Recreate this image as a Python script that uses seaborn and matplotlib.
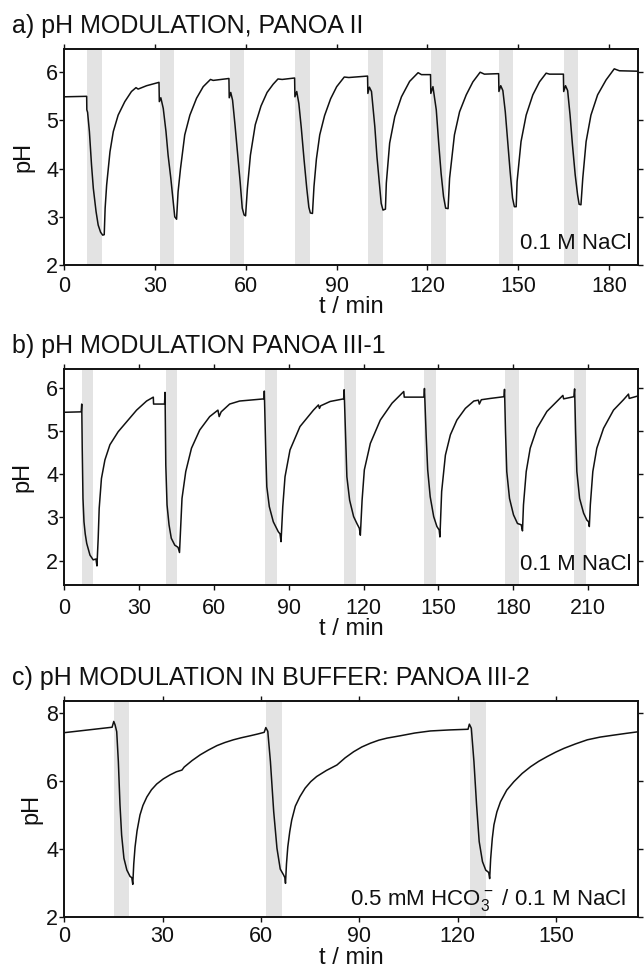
import matplotlib
matplotlib.use("Agg")
import matplotlib.pyplot as plt
import pandas as pd
import seaborn as sns

# ---------------------------------------------------------------- data
# a) PANOA II in 0.1 M NaCl
a_t = [0, 7.4, 7.45, 7.7, 8.3, 9.0, 9.6, 10.5, 11.2, 12.0, 12.7, 13.2, 13.5, 14.0, 15.1, 16.2,
       17.8, 20.0, 22.2, 23.7, 24.4, 27.2, 31.3,
       31.4, 31.9, 32.7, 33.6, 34.3, 35.2, 36.0, 36.5, 37.1, 37.6, 38.4, 39.8, 41.5, 43.7, 45.9,
       48.3, 49.2, 54.4,
       54.5, 55.0, 55.6, 56.4, 57.3, 58.1, 58.8, 59.4, 59.9, 60.5, 61.5, 63.1, 65.0, 67.0, 69.0,
       70.6, 72.0, 76.1,
       76.2, 76.8, 77.5, 78.3, 79.2, 80.1, 80.8, 81.3, 82.0, 82.5, 83.3, 84.4, 86.0, 88.0, 90.0,
       92.5, 94.0, 100.2,
       100.3, 100.8, 101.5, 102.6, 103.3, 104.2, 104.7, 105.3, 106.1, 106.4, 107.5, 109.2, 111.4,
       114.1, 116.9, 118.0, 121.0,
       121.1, 121.8, 122.9, 123.7, 124.5, 125.3, 126.0, 126.8, 127.3, 128.9, 130.6, 132.8, 135.0,
       137.4, 138.8, 143.5,
       143.6, 144.2, 144.9, 145.7, 146.5, 147.3, 148.1, 148.7, 149.3, 149.6, 150.9, 152.6, 154.8,
       157.0, 159.2, 160.3, 164.9,
       165.0, 165.6, 166.3, 167.1, 167.9, 168.8, 169.6, 170.1, 170.7, 171.3, 172.4, 174.0, 176.2,
       179.0, 181.7, 183.4, 190.0]
a_ph = [5.49, 5.50, 5.22, 5.17, 4.77, 4.08, 3.59, 3.11, 2.83, 2.68, 2.62, 2.63, 3.18, 3.66, 4.35, 4.77,
        5.11, 5.39, 5.60, 5.68, 5.65, 5.72, 5.79,
        5.39, 5.47, 5.25, 4.77, 4.28, 3.80, 3.32, 3.00, 2.95, 3.52, 4.00, 4.70, 5.11, 5.46, 5.70,
        5.85, 5.83, 5.87,
        5.47, 5.58, 5.42, 4.91, 4.28, 3.73, 3.18, 3.04, 3.02, 3.59, 4.28, 4.91, 5.30, 5.58, 5.75,
        5.86, 5.85, 5.88,
        5.49, 5.60, 5.35, 4.85, 4.20, 3.60, 3.20, 3.08, 3.07, 3.63, 4.20, 4.70, 5.10, 5.45, 5.70,
        5.90, 5.89, 5.92,
        5.56, 5.69, 5.60, 4.87, 4.25, 3.63, 3.28, 3.14, 3.16, 3.70, 4.53, 5.08, 5.49,
        5.81, 5.99, 5.95, 5.95,
        5.56, 5.70, 5.22, 4.53, 3.90, 3.42, 3.18, 3.17, 3.80, 4.70, 5.18, 5.53, 5.80,
        6.00, 5.96, 5.97,
        5.60, 5.72, 5.62, 5.18, 4.56, 3.94, 3.39, 3.21, 3.21, 3.73, 4.56, 5.11, 5.53,
        5.80, 5.98, 5.96, 5.96,
        5.60, 5.72, 5.62, 5.11, 4.49, 3.87, 3.45, 3.26, 3.25, 3.80, 4.56, 5.11, 5.53,
        5.84, 6.07, 6.03, 6.02]
a_band_start = [7.4, 31.6, 54.6, 76.2, 100.3, 121.1, 143.6, 165.0]
a_band_end = [12.5, 36.3, 59.3, 81.1, 105.2, 126.2, 148.4, 169.8]

# b) PANOA III-1 in 0.1 M NaCl
b_t = [0, 6.8, 7.0, 7.2, 7.5, 7.9, 8.4, 9.0, 10.3, 11.6, 12.7, 13.1,
       13.6, 14.0, 14.9, 16.3, 18.3, 21.6, 25.0, 29.0, 33.0, 35.7, 35.8, 40.2, 40.4,
       40.7, 41.2, 42.0, 42.9, 44.3, 45.6, 46.2,
       46.6, 47.2, 48.7, 51.0, 54.3, 58.3, 61.6, 62.1, 62.9, 66.3, 70.3, 78.4, 80.1, 80.2,
       80.8, 81.2, 82.2, 83.8, 85.8, 86.5, 86.9,
       87.6, 88.5, 90.5, 94.5, 99.9, 101.9, 102.3, 102.8, 106.6, 112.0, 112.2,
       112.8, 113.3, 114.4, 116.0, 117.4, 118.3, 118.7,
       119.4, 120.3, 122.7, 126.7, 131.4, 136.1, 136.3, 144.2, 144.4,
       145.1, 145.7, 146.7, 148.1, 149.4, 150.3, 150.6,
       151.3, 152.8, 154.8, 157.4, 160.8, 164.2, 166.0, 166.4, 167.2, 170.8, 176.3, 176.5,
       176.9, 177.4, 178.5, 180.1, 181.7, 183.2, 183.7,
       184.1, 185.2, 186.8, 189.5, 193.5, 197.5, 199.9, 200.2, 204.3, 204.6,
       205.0, 205.5, 206.6, 208.2, 209.5, 210.2, 210.5,
       210.9, 211.9, 213.5, 216.2, 220.2, 224.2, 226.2, 226.5, 230.2]
b_ph = [5.43, 5.44, 5.62, 4.60, 3.44, 2.90, 2.62, 2.40, 2.13, 2.02, 2.04, 1.88,
        2.52, 3.21, 3.90, 4.33, 4.68, 4.98, 5.21, 5.48, 5.69, 5.78, 5.62, 5.62, 5.89,
        4.21, 3.29, 2.83, 2.52, 2.36, 2.31, 2.19,
        2.67, 3.44, 4.06, 4.60, 5.02, 5.33, 5.48, 5.33, 5.44, 5.62, 5.69, 5.73, 5.74, 5.92,
        4.48, 3.71, 3.25, 2.90, 2.67, 2.62, 2.44,
        3.25, 3.94, 4.56, 5.10, 5.48, 5.60, 5.52, 5.58, 5.68, 5.74, 5.95,
        4.87, 3.94, 3.40, 3.02, 2.85, 2.75, 2.59,
        3.40, 4.10, 4.71, 5.25, 5.64, 5.91, 5.78, 5.78, 5.98,
        4.87, 4.10, 3.48, 3.02, 2.79, 2.71, 2.55,
        3.60, 4.44, 4.91, 5.25, 5.52, 5.69, 5.71, 5.62, 5.72, 5.75, 5.79, 5.96,
        4.98, 4.06, 3.44, 3.06, 2.86, 2.83, 2.69,
        3.29, 4.06, 4.60, 5.06, 5.45, 5.68, 5.82, 5.74, 5.79, 5.97,
        4.98, 4.06, 3.44, 3.10, 2.94, 2.90, 2.79,
        3.29, 4.06, 4.60, 5.06, 5.48, 5.72, 5.85, 5.75, 5.81]
b_band_start = [7.0, 40.7, 80.5, 112.2, 144.3, 176.7, 204.5]
b_band_end = [11.6, 45.3, 85.4, 116.9, 149.1, 182.2, 209.1]

# c) PANOA III-2 in bicarbonate buffer
c_t = [0, 14.6, 15.1, 15.5, 16.0, 16.5, 17.0, 17.5, 18.2, 19.1, 20.1, 20.6, 20.9,
       21.2, 21.6, 22.2, 23.1, 24.0, 25.2, 26.6, 28.2, 30.2, 32.3, 34.2, 35.9, 36.6,
       39.0, 41.5, 44.0, 46.6, 49.0, 51.6, 54.0, 56.8, 59.0, 61.0,
       61.5, 62.1, 62.9, 63.9, 64.9, 65.9, 66.9, 67.3, 67.5,
       67.8, 68.2, 68.8, 69.4, 70.5, 71.9, 73.5, 75.2, 77.0, 80.0, 83.2, 85.7, 88.3, 90.8,
       93.4, 96.0, 98.5, 102.6, 107.0, 111.7, 117.5, 123.2,
       123.6, 124.2, 125.0, 125.8, 126.6, 127.6, 128.6, 129.5, 129.8,
       130.1, 130.6, 131.1, 132.0, 133.1, 135.0, 137.2, 139.7, 142.3, 144.8, 147.4,
       150.0, 152.5, 156.0, 159.6, 163.5, 167.8, 171.5, 175.4]
c_ph = [7.41, 7.57, 7.74, 7.64, 7.44, 6.56, 5.29, 4.40, 3.72, 3.37, 3.18, 3.15, 2.95,
        3.55, 4.05, 4.52, 4.99, 5.27, 5.52, 5.73, 5.90, 6.05, 6.17, 6.26, 6.31, 6.40,
        6.59, 6.76, 6.90, 7.03, 7.12, 7.20, 7.26, 7.32, 7.37, 7.42,
        7.56, 7.45, 6.56, 5.09, 4.01, 3.40, 3.23, 3.15, 2.98,
        3.55, 4.05, 4.50, 4.84, 5.25, 5.53, 5.78, 5.97, 6.12, 6.30, 6.46, 6.67, 6.85, 6.99,
        7.10, 7.19, 7.25, 7.32, 7.40, 7.46, 7.49, 7.51,
        7.66, 7.54, 6.56, 5.29, 4.21, 3.62, 3.37, 3.30, 3.12,
        3.70, 4.30, 4.70, 5.08, 5.38, 5.72, 5.97, 6.21, 6.41, 6.57, 6.71,
        6.84, 6.95, 7.08, 7.20, 7.28, 7.34, 7.39, 7.44]
c_band_start = [15.2, 61.4, 123.7]
c_band_end = [19.9, 66.5, 128.8]

titles = ["a) pH MODULATION, PANOA II",
          "b) pH MODULATION PANOA III-1",
          "c) pH MODULATION IN BUFFER: PANOA III-2"]
notes = ["0.1 M NaCl", "0.1 M NaCl", "0.5 mM HCO$_3^-$ / 0.1 M NaCl"]
x_ticks = [[0, 30, 60, 90, 120, 150, 180],
           [0, 30, 60, 90, 120, 150, 180, 210],
           [0, 30, 60, 90, 120, 150]]
y_ticks = [[2, 3, 4, 5, 6], [2, 3, 4, 5, 6], [2, 4, 6, 8]]

# ---------------------------------------------------------------- style
sns.set_theme(style="ticks")
plt.rcParams["font.family"] = ["Liberation Sans", "DejaVu Sans"]
plt.rcParams["mathtext.default"] = "regular"
BAND = "#e3e3e3"
INK = "#111111"

fig = plt.figure(figsize=(6.44, 9.68), dpi=100)

layout = [
    # rect, limits, x tick pad, label positions, note position, title baseline
    dict(rect=[0.0998, 0.7262, 0.8916, 0.2231], xlim=(0, 189.7), ylim=(2, 6.48),
         xpad=4.4, xl=-0.143, yl=-0.052, note=(0.988, 0.073), ty=0.9659),
    dict(rect=[0.0998, 0.3957, 0.8916, 0.2231], xlim=(0, 230.2), ylim=(1.44, 6.43),
         xpad=5.5, xl=-0.152, yl=-0.053, note=(0.988, 0.069), ty=0.6350),
    dict(rect=[0.0998, 0.0530, 0.8916, 0.2228], xlim=(0, 175.2), ylim=(2, 8.34),
         xpad=3.2, xl=-0.141, yl=-0.038, note=(0.979, 0.054), ty=0.2924),
]
series = [(a_t, a_ph, a_band_start, a_band_end),
          (b_t, b_ph, b_band_start, b_band_end),
          (c_t, c_ph, c_band_start, c_band_end)]

for i, (lay, (t, ph, bs, be)) in enumerate(zip(layout, series)):
    ax = fig.add_axes(lay["rect"])
    for s, e in zip(bs, be):
        ax.axvspan(s, e, color=BAND, lw=0, zorder=0)
    df = pd.DataFrame({"t": t, "pH": ph})
    sns.lineplot(data=df, x="t", y="pH", ax=ax, color=INK, lw=1.1,
                 estimator=None, sort=False, zorder=2)
    ax.set_xlim(*lay["xlim"])
    ax.set_ylim(*lay["ylim"])
    ax.set_xticks(x_ticks[i])
    ax.set_yticks(y_ticks[i])
    ax.tick_params(axis="both", direction="out", length=3.8, width=1.0,
                   top=True, right=True, labeltop=False, labelright=False,
                   labelsize=15.5, colors=INK)
    ax.tick_params(axis="x", pad=lay["xpad"])
    ax.tick_params(axis="y", pad=0.5)
    for sp in ax.spines.values():
        sp.set_linewidth(1.4)
        sp.set_color(INK)
    ax.set_xlabel("t / min", fontsize=17, color=INK)
    ax.set_ylabel("pH", fontsize=17, color=INK)
    ax.xaxis.set_label_coords(0.5, lay["xl"])
    ax.yaxis.set_label_coords(lay["yl"], 0.5)
    ax.text(lay["note"][0], lay["note"][1], notes[i], transform=ax.transAxes,
            ha="right", va="baseline", fontsize=16, color=INK)
    fig.text(0.018, lay["ty"], titles[i], ha="left", va="baseline",
             fontsize=18, color=INK)

fig.savefig("out.png", dpi=100)
